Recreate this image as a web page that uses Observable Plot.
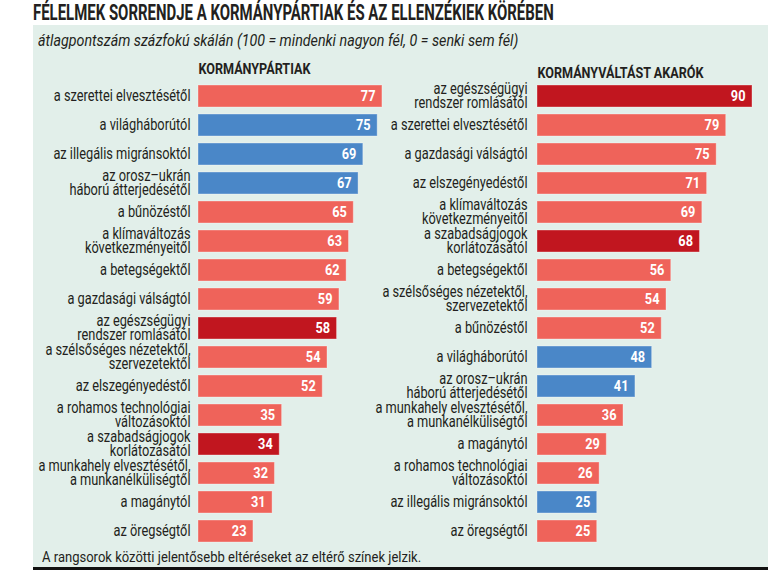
<!DOCTYPE html>
<html>
<head>
<meta charset="utf-8">
<script src="https://cdn.jsdelivr.net/npm/d3@7"></script>
<script src="https://cdn.jsdelivr.net/npm/@observablehq/plot@0.6"></script>
<style>
  html, body { margin: 0; padding: 0; background: #fff; }
  #wrap { position: relative; width: 776px; height: 572px; overflow: hidden;
    font-family: Roboto, "Noto Sans", sans-serif; color: #231f20; }
  #panel { position: absolute; left: 33px; top: 25px; width: 735px; height: 542px; background: #e2efea; }
  #rule { position: absolute; left: 33px; top: 567px; width: 735px; height: 3px; background: #111; }
  .sq { position: absolute; white-space: nowrap; transform-origin: 0 0; }
  #title { left: 33px; top: 1px; font-weight: bold; font-size: 21.5px; line-height: 24px; transform: scaleX(0.695); }
  #subtitle { left: 38px; top: 30px; font-style: italic; font-size: 17px; line-height: 20px; transform: scaleX(0.84); }
  #caption { left: 42px; top: 549px; font-size: 15.5px; line-height: 17px; transform: scaleX(0.84); }
  #chart { position: absolute; left: 0; top: 0; }
</style>
</head>
<body>
<div id="wrap">
  <div id="panel"></div>
  <div id="rule"></div>
  <div id="chart"></div>
  <div id="title" class="sq">FÉLELMEK SORRENDJE A KORMÁNYPÁRTIAK ÉS AZ ELLENZÉKIEK KÖRÉBEN</div>
  <div id="subtitle" class="sq">átlagpontszám százfokú skálán (100 = mindenki nagyon fél, 0 = senki sem fél)</div>
  <div id="caption" class="sq">A rangsorok közötti jelentősebb eltéréseket az eltérő színek jelzik.</div>
</div>
<script>
// ---- data ----
const sides = ["KORMÁNYPÁRTIAK", "KORMÁNYVÁLTÁST AKARÓK"];

const govLabels = [
  "a szerettei elvesztésétől",
  "a világháborútól",
  "az illegális migránsoktól",
  "az orosz–ukrán\nháború átterjedésétől",
  "a bűnözéstől",
  "a klímaváltozás\nkövetkezményeitől",
  "a betegségektől",
  "a gazdasági válságtól",
  "az egészségügyi\nrendszer romlásától",
  "a szélsőséges nézetektől,\nszervezetektől",
  "az elszegényedéstől",
  "a rohamos technológiai\nváltozásoktól",
  "a szabadságjogok\nkorlátozásától",
  "a munkahely elvesztésétől,\na munkanélküliségtől",
  "a magánytól",
  "az öregségtől"
];
const govValues = [77, 75, 69, 67, 65, 63, 62, 59, 58, 54, 52, 35, 34, 32, 31, 23];
const govGroups = ["egyéb", "kormánypárti", "kormánypárti", "kormánypárti", "egyéb", "egyéb", "egyéb", "egyéb",
  "ellenzéki", "egyéb", "egyéb", "egyéb", "ellenzéki", "egyéb", "egyéb", "egyéb"];

const oppLabels = [
  "az egészségügyi\nrendszer romlásától",
  "a szerettei elvesztésétől",
  "a gazdasági válságtól",
  "az elszegényedéstől",
  "a klímaváltozás\nkövetkezményeitől",
  "a szabadságjogok\nkorlátozásától",
  "a betegségektől",
  "a szélsőséges nézetektől,\nszervezetektől",
  "a bűnözéstől",
  "a világháborútól",
  "az orosz–ukrán\nháború átterjedésétől",
  "a munkahely elvesztésétől,\na munkanélküliségtől",
  "a magánytól",
  "a rohamos technológiai\nváltozásoktól",
  "az illegális migránsoktól",
  "az öregségtől"
];
const oppValues = [90, 79, 75, 71, 69, 68, 56, 54, 52, 48, 41, 36, 29, 26, 25, 25];
const oppGroups = ["ellenzéki", "egyéb", "egyéb", "egyéb", "egyéb", "ellenzéki", "egyéb", "egyéb",
  "egyéb", "kormánypárti", "kormánypárti", "egyéb", "egyéb", "egyéb", "kormánypárti", "egyéb"];

const groupDomain = ["egyéb", "kormánypárti", "ellenzéki"];
const groupColors = ["#ef635a", "#4a87c8", "#c1161f"];

// ---- table ----
const rows = [
  ...govLabels.map((label, i) => ({side: sides[0], rank: i + 1, label, value: govValues[i], group: govGroups[i]})),
  ...oppLabels.map((label, i) => ({side: sides[1], rank: i + 1, label, value: oppValues[i], group: oppGroups[i]}))
];
const headers = sides.map(s => ({side: s, title: s}));

const chart = Plot.plot({
  width: 776,
  height: 572,
  marginLeft: 198,
  marginRight: 24,
  marginTop: 76,
  marginBottom: 22,
  style: {background: "transparent", fontFamily: 'Roboto, "Noto Sans", sans-serif', fontSize: "16px", color: "#231f20", overflow: "visible"},
  x: {domain: [0, 90], axis: null},
  y: {domain: d3.range(1, 17), axis: null, paddingInner: 0.25, paddingOuter: 0.25},
  fx: {domain: sides, axis: null, paddingInner: 0.3658, paddingOuter: 0},
  color: {domain: groupDomain, range: groupColors},
  marks: [
    Plot.barX(rows, {fx: "side", y: "rank", x: "value", fill: "group", stroke: "#ffffff", strokeOpacity: 0.35, strokeWidth: 1}),
    Plot.text(rows.filter(d => d.side === sides[0]), {fx: "side", y: "rank", x: 0, text: "label", textAnchor: "end", dx: -8, lineHeight: 0.88, fill: "#231f20", fontSize: 16, className: "sqlabel"}),
    Plot.text(rows.filter(d => d.side === sides[1]), {fx: "side", y: "rank", x: 0, text: "label", textAnchor: "end", dx: -10, lineHeight: 0.88, fill: "#231f20", fontSize: 16, className: "sqlabel"}),
    Plot.text(rows, {fx: "side", y: "rank", x: "value", text: d => String(d.value), textAnchor: "end", dx: -7, fill: "white", fontWeight: "bold", fontSize: 15, className: "sqvalue"}),
    Plot.text(headers.filter(d => d.side === sides[0]), {fx: "side", frameAnchor: "top-left", text: "title", textAnchor: "start", dy: -12, fontWeight: "bold", fontSize: 14, fill: "#231f20", className: "sqhead"}),
    Plot.text(headers.filter(d => d.side === sides[1]), {fx: "side", frameAnchor: "top-left", text: "title", textAnchor: "start", dy: -8, fontWeight: "bold", fontSize: 14, fill: "#231f20", className: "sqhead"})
  ]
});

// horizontally condense the text, as in the reference's narrow typeface
const squeeze = {sqlabel: 0.8, sqvalue: 0.85, sqhead: 0.9};
for (const [cls, s] of Object.entries(squeeze)) {
  chart.querySelectorAll(`g.${cls} text`).forEach(t => {
    const tr = t.getAttribute("transform") || "";
    t.setAttribute("transform", `${tr} scale(${s},1)`);
  });
}
document.getElementById("chart").appendChild(chart);
</script>
</body>
</html>
